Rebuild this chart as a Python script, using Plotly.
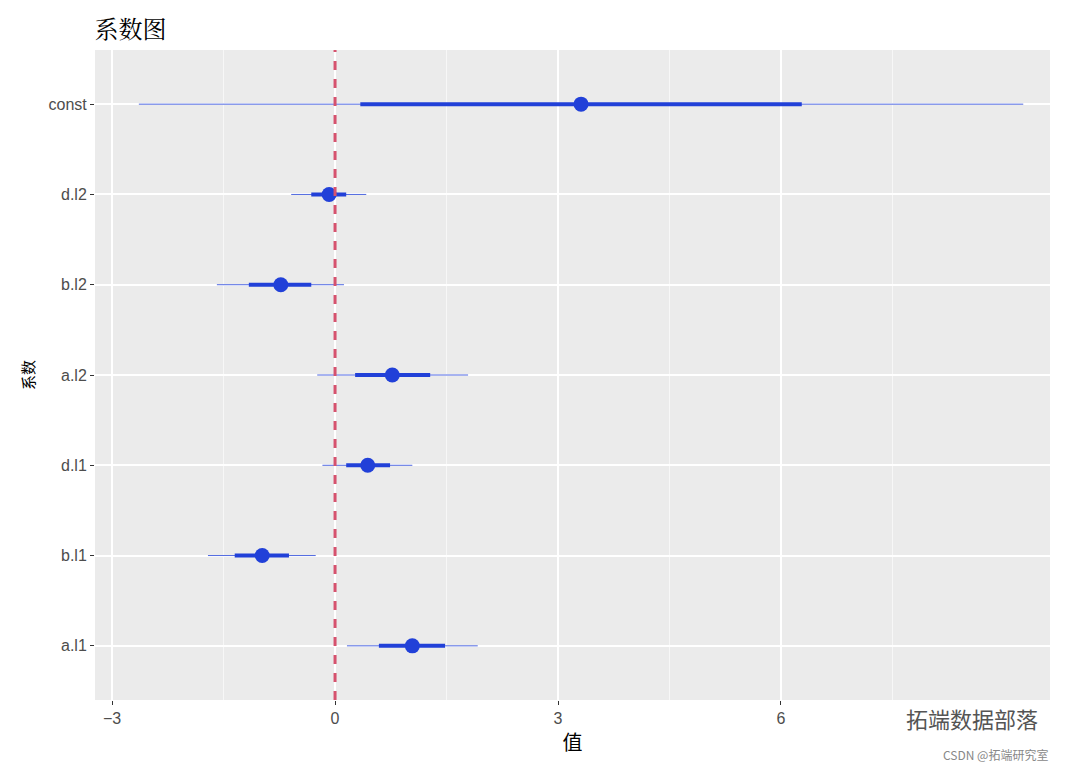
import plotly.graph_objects as go

terms = ["a.l1", "b.l1", "d.l1", "a.l2", "b.l2", "d.l2", "const"]
estimate = [1.04, -0.98, 0.44, 0.77, -0.73, -0.08, 3.31]
inner_lo = [0.59, -1.35, 0.15, 0.27, -1.16, -0.32, 0.34]
inner_hi = [1.48, -0.62, 0.74, 1.28, -0.32, 0.15, 6.28]
outer_lo = [0.16, -1.71, -0.17, -0.24, -1.59, -0.59, -2.64]
outer_hi = [1.92, -0.26, 1.04, 1.79, 0.12, 0.42, 9.26]

blue = "#2140d8"
fig = go.Figure()
for i, t in enumerate(terms):
    fig.add_trace(go.Scatter(x=[outer_lo[i], outer_hi[i]], y=[t, t], mode="lines",
                             line=dict(color=blue, width=0.8), showlegend=False))
    fig.add_trace(go.Scatter(x=[inner_lo[i], inner_hi[i]], y=[t, t], mode="lines",
                             line=dict(color=blue, width=4), showlegend=False))
fig.add_trace(go.Scatter(x=estimate, y=terms, mode="markers",
                         marker=dict(color=blue, size=15), showlegend=False))

fig.add_vline(x=0, line=dict(color="#d6526e", width=3, dash="dash"))

fig.update_layout(
    width=1080, height=771, paper_bgcolor="white", plot_bgcolor="#ebebeb",
    margin=dict(l=87, r=38, t=42, b=79, autoexpand=False),
    title=dict(text="系数图", x=0.08, xanchor="left", y=0.972, yanchor="middle",
               font=dict(family="Noto Serif CJK SC, Noto Sans CJK SC", size=24, color="black")),
    font=dict(family="Liberation Sans, Arial", size=16, color="#4d4d4d"),
)
fig.update_xaxes(range=[-3.23, 9.62], tickvals=[-3, 0, 3, 6], gridcolor="white", gridwidth=1.6,
                 minor=dict(tickvals=[-1.5, 1.5, 4.5, 7.5], gridcolor="#f7f7f7", gridwidth=0.8),
                 zeroline=False, ticks="outside", ticklen=4, tickcolor="#333", automargin=False,
                 title=dict(text="值", font=dict(family="Noto Sans CJK SC", size=20, color="black"), standoff=4))
fig.update_yaxes(categoryorder="array", categoryarray=terms, range=[-0.6, 6.6], automargin=False,
                 gridcolor="white", gridwidth=1.6, zeroline=False, ticks="outside", ticklen=4,
                 tickcolor="#333",
                 title=dict(text="系数", font=dict(family="Noto Sans CJK SC", size=15, color="black"), standoff=10))
fig.add_annotation(text="拓端数据部落", x=0.99, y=-0.055, xanchor="right", xref="paper", yref="paper",
                   showarrow=False, font=dict(family="Noto Sans CJK SC", size=22, color="#555"))
fig.add_annotation(text="CSDN @拓端研究室", x=1.0, y=-0.1, xref="paper", yref="paper",
                   xanchor="right", showarrow=False,
                   font=dict(family="Noto Sans CJK SC", size=12, color="#888"))
fig.write_html("out.html")
